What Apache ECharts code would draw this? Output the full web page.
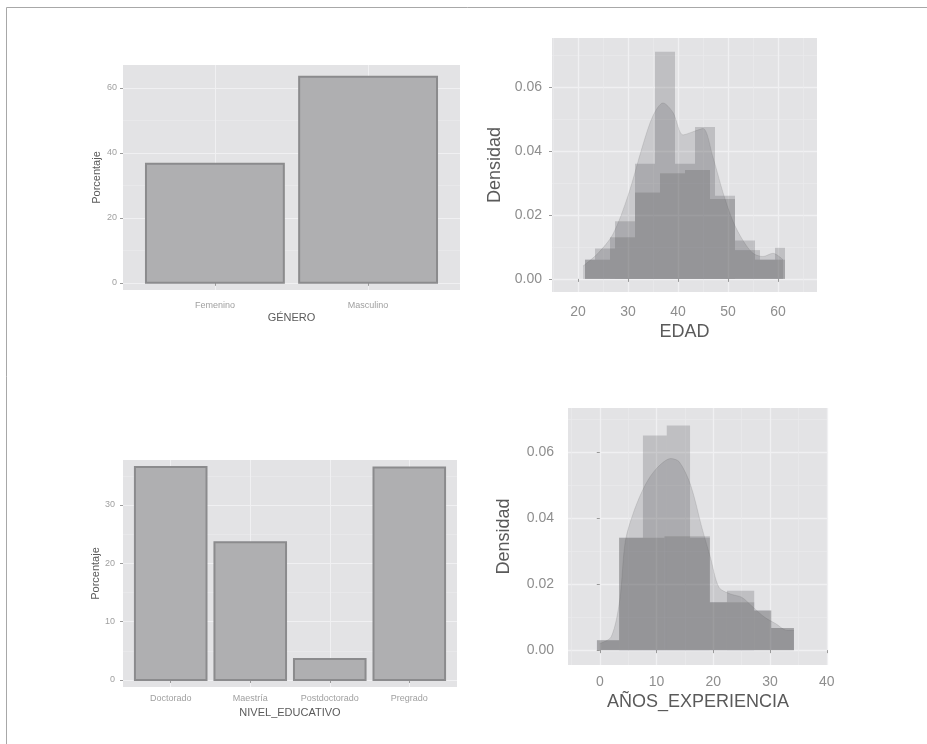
<!DOCTYPE html>
<html><head><meta charset="utf-8">
<script src="https://cdn.jsdelivr.net/npm/echarts@6/dist/echarts.min.js"></script>
<style>html,body{margin:0;padding:0;background:#fff}#c{width:927px;height:744px}</style>
</head><body><div id="c"></div>
<script>
// ---------- data ----------
const generoCats = ['Femenino', 'Masculino'];
const generoPct = [36.6, 63.4];
const generoTicks = [0, 20, 40, 60];
const generoMinor = [10, 30, 50];

const nivelCats = ['Doctorado', 'Maestría', 'Postdoctorado', 'Pregrado'];
const nivelPct = [36.5, 23.6, 3.6, 36.4];
const nivelTicks = [0, 10, 20, 30];
const nivelMinor = [5, 15, 25, 35];

const densTicks = [0, 0.02, 0.04, 0.06];
const densMinor = [0.01, 0.03, 0.05, 0.07];

const edadTicks = [20, 30, 40, 50, 60];
const edadMinor = [15, 25, 35, 45, 55, 65];
const edadCoarseEdges = [21.4, 26.4, 31.4, 36.4, 41.4, 46.4, 51.4, 56.4, 61.4];
const edadCoarseDens = [0.006, 0.013, 0.027, 0.033, 0.034, 0.025, 0.009, 0.006];
const edadFineEdges = [21.4, 23.4, 27.4, 31.4, 35.4, 39.4, 43.4, 47.4, 51.4, 55.4, 59.4, 61.4];
const edadFineDens = [0.006, 0.0095, 0.018, 0.036, 0.071, 0.036, 0.0475, 0.026, 0.012, 0.006, 0.0097];
const edadKdeX = [21, 24, 27, 30, 33, 35, 37, 39, 41, 43, 45, 47, 49, 51, 53, 55, 57, 59, 61];
const edadKdeY = [0.004, 0.008, 0.014, 0.026, 0.042, 0.051, 0.055, 0.052, 0.045, 0.046, 0.047, 0.038, 0.027, 0.018, 0.012, 0.008, 0.007, 0.008, 0.006];

const expTicks = [0, 10, 20, 30, 40];
const expMinor = [-5, 5, 15, 25, 35];
const expCoarseEdges = [-0.5, 3.4, 11.4, 19.4, 27.2, 30.2, 34.2];
const expCoarseDens = [0.003, 0.034, 0.0345, 0.0145, 0.012, 0.0067];
const expFineEdges = [-0.5, 3.4, 7.6, 11.8, 15.9, 19.4, 22.4, 27.2, 30.2, 34.2];
const expFineDens = [0.003, 0.034, 0.065, 0.068, 0.034, 0.0145, 0.018, 0.012, 0.0067];
const expKdeX = [0, 2, 3.5, 4.5, 6, 8, 10, 12.5, 14, 16, 18, 19.5, 21, 23, 25, 27, 29, 31, 33, 34.2];
const expKdeY = [0.002, 0.004, 0.015, 0.033, 0.042, 0.05, 0.055, 0.058, 0.057, 0.05, 0.037, 0.028, 0.019, 0.017, 0.016, 0.013, 0.010, 0.008, 0.006, 0.006];

// ---------- helpers ----------
const FONT = 'Liberation Sans';
const LAYER = 'rgba(80,80,82,0.24)';
const bins = (edges, vals) => vals.map((v, i) => [edges[i], edges[i + 1], v]);
const pairs = (xs, ys) => xs.map((x, i) => [x, ys[i]]);

function barItem(params, api) {
  const x = api.value(0), v = api.value(1);
  const p0 = api.coord([x - 0.45, v]);
  const p1 = api.coord([x + 0.45, 0]);
  return { type: 'rect',
    shape: { x: p0[0], y: p0[1], width: p1[0] - p0[0], height: p1[1] - p0[1] },
    style: { fill: '#afafb1', stroke: '#8b8b8d', lineWidth: 2 } };
}
function histItem(params, api) {
  const a = api.value(0), b = api.value(1), h = api.value(2);
  const p0 = api.coord([a, h]);
  const p1 = api.coord([b, 0]);
  return { type: 'rect',
    shape: { x: p0[0], y: p0[1], width: p1[0] - p0[0], height: p1[1] - p0[1] },
    style: { fill: LAYER } };
}

function mainAxis(o) {
  const small = o.small;
  return {
    type: 'value', gridIndex: o.grid, min: o.min, max: o.max,
    name: o.name, nameLocation: 'middle', nameGap: o.nameGap,
    nameTextStyle: { fontFamily: FONT, fontSize: small ? 11 : 18, color: small ? '#5a5a5a' : '#5a5a5a' },
    axisLine: { show: false },
    axisTick: { show: true, length: 3, customValues: o.ticks, lineStyle: { color: '#9a9a9a' } },
    axisLabel: { show: true, customValues: o.ticks, margin: o.margin, fontFamily: FONT,
      fontSize: small ? 9 : 14, color: small ? '#a0a0a0' : '#8e8e8e', formatter: o.fmt },
    splitLine: { show: true, lineStyle: { color: '#f0f0f2', width: small ? 1 : 1.3 } }
  };
}
function minorAxis(grid, min, max, vals, pos) {
  return {
    type: 'value', gridIndex: grid, min: min, max: max, position: pos,
    axisLine: { show: false }, axisLabel: { show: false },
    axisTick: { show: false, customValues: vals },
    splitLine: { show: true, lineStyle: { color: '#eaeaec', width: 0.7 } }
  };
}

const gridBase = { show: true, backgroundColor: '#e3e3e5', borderWidth: 0, containLabel: false };

const option = {
  animation: false,
  backgroundColor: '#ffffff',
  graphic: [{ type: 'rect', left: 4, top: 5, shape: { width: 940, height: 760 },
    style: { fill: 'none', stroke: '#a8a8a8', lineWidth: 1 }, z: 100 }],
  grid: [
    Object.assign({ left: 123, top: 65, width: 337, height: 225 }, gridBase),
    Object.assign({ left: 552, top: 38, width: 265, height: 254 }, gridBase),
    Object.assign({ left: 123, top: 460, width: 334, height: 227 }, gridBase),
    Object.assign({ left: 568, top: 408, width: 260, height: 257 }, gridBase)
  ],
  xAxis: [
    mainAxis({ grid: 0, min: 0.4, max: 2.6, ticks: [1, 2], name: 'GÉNERO', nameGap: 22, margin: 11, small: true,
      fmt: v => generoCats[Math.round(v) - 1] }),
    mainAxis({ grid: 1, min: 14.8, max: 67.8, ticks: edadTicks, name: 'EDAD', nameGap: 31, margin: 13,
      fmt: v => String(v) }),
    mainAxis({ grid: 2, min: 0.4, max: 4.6, ticks: [1, 2, 3, 4], name: 'NIVEL_EDUCATIVO', nameGap: 20, margin: 7, small: true,
      fmt: v => nivelCats[Math.round(v) - 1] }),
    mainAxis({ grid: 3, min: -5.6, max: 40.2, ticks: expTicks, name: 'AÑOS_EXPERIENCIA', nameGap: 28, margin: 10,
      fmt: v => String(v) }),
    minorAxis(1, 14.8, 67.8, edadMinor, 'top'),
    minorAxis(3, -5.6, 40.2, expMinor, 'top')
  ],
  yAxis: [
    mainAxis({ grid: 0, min: -2.2, max: 67, ticks: generoTicks, name: 'Porcentaje', nameGap: 21, margin: 6, small: true,
      fmt: v => String(v) }),
    mainAxis({ grid: 1, min: -0.0041, max: 0.0753, ticks: densTicks, name: 'Densidad', nameGap: 48, margin: 10,
      fmt: v => v.toFixed(2) }),
    mainAxis({ grid: 2, min: -1.2, max: 37.7, ticks: nivelTicks, name: 'Porcentaje', nameGap: 21, margin: 8, small: true,
      fmt: v => String(v) }),
    mainAxis({ grid: 3, min: -0.0045, max: 0.0733, ticks: densTicks, name: 'Densidad', nameGap: 55, margin: 14,
      fmt: v => v.toFixed(2) }),
    minorAxis(0, -2.2, 67, generoMinor, 'right'),
    minorAxis(1, -0.0041, 0.0753, densMinor, 'right'),
    minorAxis(2, -1.2, 37.7, nivelMinor, 'right'),
    minorAxis(3, -0.0045, 0.0733, densMinor, 'right')
  ],
  series: [
    { type: 'custom', xAxisIndex: 0, yAxisIndex: 0, renderItem: barItem, encode: { x: 0, y: 1 },
      data: generoPct.map((v, i) => [i + 1, v]) },
    { type: 'custom', xAxisIndex: 2, yAxisIndex: 2, renderItem: barItem, encode: { x: 0, y: 1 },
      data: nivelPct.map((v, i) => [i + 1, v]) },
    { type: 'custom', xAxisIndex: 1, yAxisIndex: 1, renderItem: histItem, encode: { x: [0, 1], y: 2 },
      clip: true, data: bins(edadCoarseEdges, edadCoarseDens) },
    { type: 'custom', xAxisIndex: 1, yAxisIndex: 1, renderItem: histItem, encode: { x: [0, 1], y: 2 },
      clip: true, data: bins(edadFineEdges, edadFineDens) },
    { type: 'line', xAxisIndex: 1, yAxisIndex: 1, data: pairs(edadKdeX, edadKdeY), smooth: 0.3,
      showSymbol: false, symbol: 'none', lineStyle: { color: 'rgba(80,80,82,0.15)', width: 1 },
      areaStyle: { color: LAYER } },
    { type: 'custom', xAxisIndex: 3, yAxisIndex: 3, renderItem: histItem, encode: { x: [0, 1], y: 2 },
      clip: true, data: bins(expCoarseEdges, expCoarseDens) },
    { type: 'custom', xAxisIndex: 3, yAxisIndex: 3, renderItem: histItem, encode: { x: [0, 1], y: 2 },
      clip: true, data: bins(expFineEdges, expFineDens) },
    { type: 'line', xAxisIndex: 3, yAxisIndex: 3, data: pairs(expKdeX, expKdeY), smooth: 0.3,
      showSymbol: false, symbol: 'none', lineStyle: { color: 'rgba(80,80,82,0.15)', width: 1 },
      areaStyle: { color: LAYER } }
  ]
};

const chart = echarts.init(document.getElementById('c'), null, { renderer: 'canvas' });
chart.setOption(option);
</script>
</body></html>
